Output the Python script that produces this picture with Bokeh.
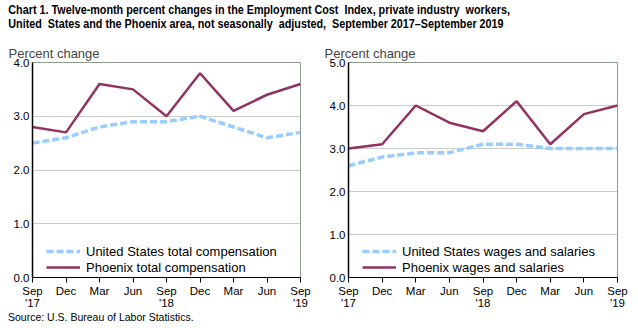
from bokeh.plotting import figure
from bokeh.layouts import column, row
from bokeh.models import Div, FixedTicker, Legend, LegendItem, Range1d
from bokeh.embed import file_html
from bokeh.resources import INLINE

quarters = ["Sep\n'17", "Dec", "Mar", "Jun", "Sep\n'18", "Dec", "Mar", "Jun", "Sep\n'19"]
us_total = [2.5, 2.6, 2.8, 2.9, 2.9, 3.0, 2.8, 2.6, 2.7]
phx_total = [2.8, 2.7, 3.6, 3.5, 3.0, 3.8, 3.1, 3.4, 3.6]
us_wages = [2.6, 2.8, 2.9, 2.9, 3.1, 3.1, 3.0, 3.0, 3.0]
phx_wages = [3.0, 3.1, 4.0, 3.6, 3.4, 4.1, 3.1, 3.8, 4.0]
left_yticks = [0, 1, 2, 3, 4]
right_yticks = [0, 1, 2, 3, 4, 5]

US_COLOR = "#99ccff"
PHX_COLOR = "#923262"
GRID = "#8c9a8c"
FONT = "Liberation Sans"


def make_chart(us, phx, ymax, yticks, us_label, phx_label, width, left, right):
    xs = list(range(len(quarters)))
    p = figure(width=width, height=277, output_backend="svg", toolbar_location=None,
               x_range=Range1d(0, len(quarters) - 1), y_range=Range1d(0, ymax),
               min_border_left=left, min_border_right=right, min_border_top=28,
               min_border_bottom=0, title="Percent change")
    p.title.text_font = FONT
    p.title.text_font_size = "13px"
    p.title.text_font_style = "normal"
    p.title.offset = -24
    p.title.standoff = 3
    p.outline_line_color = GRID
    p.outline_line_width = 1
    p.background_fill_color = "white"
    p.border_fill_color = "white"
    p.xgrid.visible = False
    p.ygrid.grid_line_color = GRID
    p.ygrid.grid_line_dash = "1 1"
    p.ygrid.grid_line_width = 1
    p.ygrid.ticker = FixedTicker(ticks=yticks)

    p.xaxis.ticker = FixedTicker(ticks=xs)
    p.xaxis.major_label_overrides = {i: q for i, q in enumerate(quarters)}
    p.xaxis.major_tick_out = 5
    p.xaxis.major_tick_in = 0
    p.xaxis.minor_tick_out = 0
    p.xaxis.minor_tick_in = 0
    p.xaxis.axis_line_color = "black"
    p.xaxis.major_tick_line_color = "black"
    p.xaxis.major_label_standoff = 2
    p.yaxis.ticker = FixedTicker(ticks=yticks)
    p.yaxis.major_label_overrides = {t: f"{t:.1f}" for t in yticks}
    p.yaxis.major_tick_out = 0
    p.yaxis.major_tick_in = 0
    p.yaxis.minor_tick_out = 0
    p.yaxis.minor_tick_in = 0
    p.yaxis.axis_line_color = "black"
    p.yaxis.axis_line_width = 1.5
    p.yaxis.major_label_standoff = 3
    for ax in (p.xaxis, p.yaxis):
        ax.major_label_text_font = FONT
        ax.major_label_text_font_size = "11.5px"
        ax.major_label_text_color = "black"
    p.xaxis.major_label_text_line_height = 1.0

    r_us = p.line(xs, us, line_color=US_COLOR, line_width=3.5, line_dash="7 3")
    r_phx = p.line(xs, phx, line_color=PHX_COLOR, line_width=2.5)

    leg = Legend(items=[LegendItem(label=us_label, renderers=[r_us]),
                        LegendItem(label=phx_label, renderers=[r_phx])],
                 location=(14, 2), orientation="vertical")
    leg.border_line_color = None
    leg.background_fill_alpha = 0
    leg.margin = 0
    leg.padding = 0
    leg.spacing = 0
    leg.glyph_width = 34
    leg.glyph_height = 16
    leg.label_height = 16
    leg.label_standoff = 6
    leg.label_text_font = FONT
    leg.label_text_font_size = "13px"
    leg.label_text_color = "black"
    p.add_layout(leg, "center")
    return p


p1 = make_chart(us_total, phx_total, 4, left_yticks,
                "United States total compensation", "Phoenix total compensation",
                319, 32, 19)
p2 = make_chart(us_wages, phx_wages, 5, right_yticks,
                "United States wages and salaries", "Phoenix wages and salaries",
                319, 29, 21)

title = Div(text="Chart 1. Twelve-month percent changes in the Employment Cost&nbsp; Index, private industry&nbsp; workers,<br>"
                 "United&nbsp; States and the Phoenix area, not seasonally&nbsp; adjusted,&nbsp; September 2017&ndash;September 2019",
            width=638, height=34,
            styles={"font-family": "'Liberation Sans', Arial, sans-serif",
                    "font-weight": "bold", "font-size": "13px", "line-height": "14px",
                    "white-space": "nowrap", "transform": "scaleX(0.83)", "transform-origin": "0 0",
                    "color": "black", "padding-left": "10px", "padding-top": "3px", "margin": "0"})
source = Div(text="Source: U.S. Bureau of Labor Statistics.", width=638, height=17,
             styles={"font-family": "'Liberation Sans', Arial, sans-serif", "font-size": "10.5px",
                     "line-height": "12px",
                     "color": "black", "padding-left": "8px", "padding-top": "0px", "margin": "0"})

layout = column(title, row(p1, p2, spacing=0), source, spacing=0)
layout.margin = 0
open("out.html", "w").write(file_html(layout, INLINE))
